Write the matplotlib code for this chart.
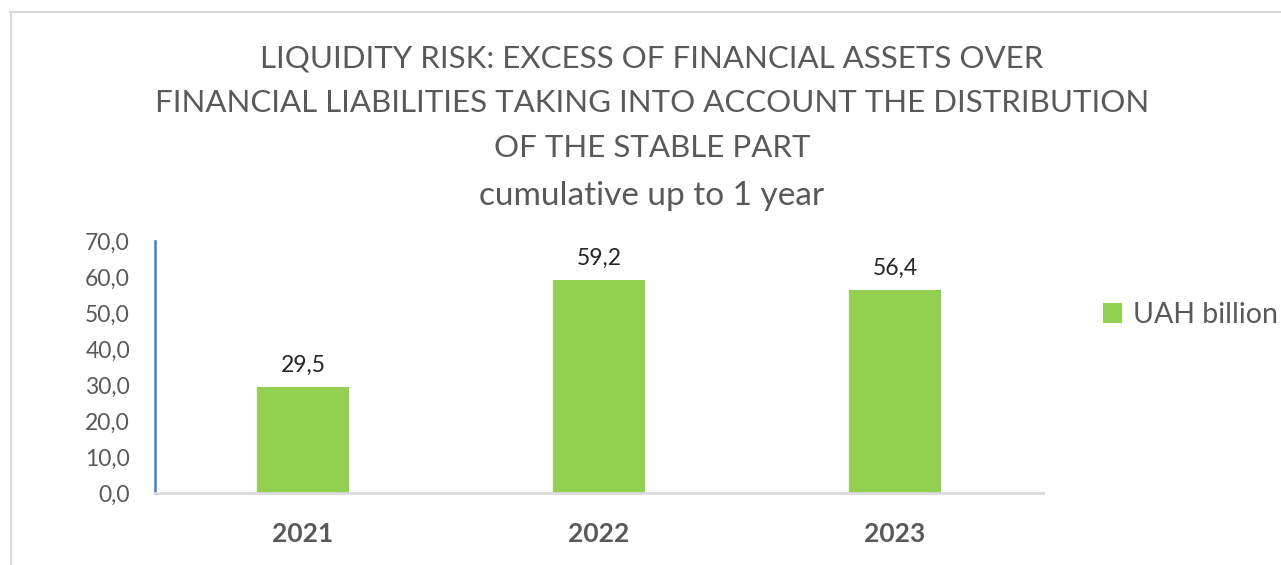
import matplotlib.pyplot as plt
from matplotlib.lines import Line2D

years = ['2021', '2022', '2023']
values = [29.5, 59.2, 56.4]
value_labels = ['29,5', '59,2', '56,4']
y_ticks = [0, 10, 20, 30, 40, 50, 60, 70]
y_tick_labels = ['0,0', '10,0', '20,0', '30,0', '40,0', '50,0', '60,0', '70,0']
series_name = 'UAH billion'
title_lines = ['LIQUIDITY RISK: EXCESS OF FINANCIAL ASSETS OVER',
               'FINANCIAL LIABILITIES TAKING INTO ACCOUNT THE DISTRIBUTION',
               'OF THE STABLE PART']
subtitle = 'cumulative up to 1 year'

plt.rcParams['font.family'] = ['Lato', 'DejaVu Sans']

W, H = 1281, 565
fig = plt.figure(figsize=(W / 100, H / 100), dpi=100)

# chart area border (light gray), only top and left visible in the crop
fig.add_artist(Line2D([10 / W, 1.0], [1 - 12 / H, 1 - 12 / H], color='#d9d9d9', lw=1.5))
fig.add_artist(Line2D([10.5 / W, 10.5 / W], [0, 1 - 12 / H], color='#d9d9d9', lw=1.5))

ax = fig.add_axes([155 / W, 72 / H, (1043 - 155) / W, (493 - 241) / H])
x = range(len(years))
bars = ax.bar(x, values, width=0.31, color='#92d050', label=series_name, zorder=2)

ax.set_xlim(-0.5, len(years) - 0.5)
ax.set_ylim(0, 70)
ax.set_yticks(y_ticks)
ax.set_yticklabels(y_tick_labels)
ax.set_xticks(list(x))
ax.set_xticklabels(years, fontweight='bold')
ax.tick_params(axis='y', length=0, pad=18, labelsize=16.5, labelcolor='#595959')
ax.tick_params(axis='x', length=0, pad=21, labelsize=19, labelcolor='#595959')

for s in ['top', 'right']:
    ax.spines[s].set_visible(False)
ax.spines['left'].set_color('#4a7ebb')
ax.spines['left'].set_linewidth(1.8)
ax.spines['bottom'].set_color('#d9d9d9')
ax.spines['bottom'].set_linewidth(2)

for b, lab in zip(bars, value_labels):
    ax.annotate(lab, (b.get_x() + b.get_width() / 2, b.get_height()),
                xytext=(0, 8), textcoords='offset points', ha='center', va='bottom',
                fontsize=16.5, color='#262626')

# title lines ~45 px apart
for i, line in enumerate(title_lines):
    fig.text(652 / W, 1 - (58 + 45 * i) / H, line, ha='center', va='center',
             fontsize=22.5, color='#595959')
fig.text(652 / W, 1 - 196 / H, subtitle, ha='center', va='center',
         fontsize=24, color='#595959')

ax.legend(loc='center left', bbox_to_anchor=(1103 / W, 1 - 315 / H),
          bbox_transform=fig.transFigure, frameon=False, fontsize=20.5,
          handlelength=0.65, handleheight=0.65, handletextpad=0.4,
          borderpad=0, borderaxespad=0, labelcolor='#595959')

fig.savefig('out.png', dpi=100)
